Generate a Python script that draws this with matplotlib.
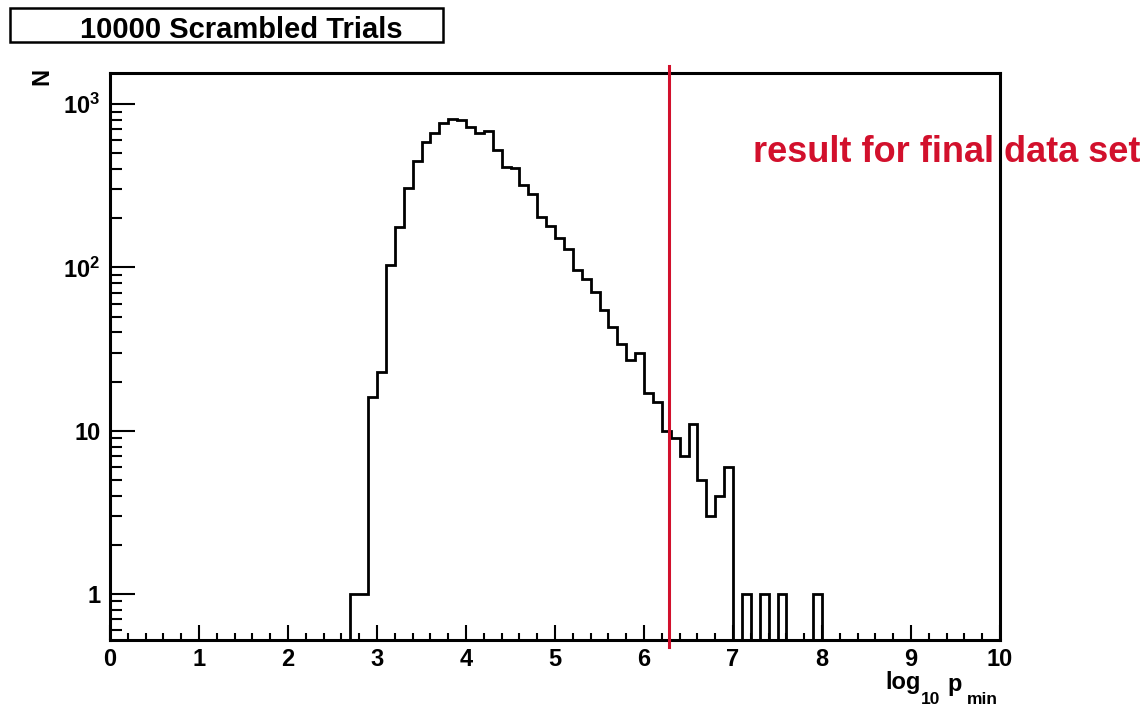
import numpy as np
import matplotlib
matplotlib.use("Agg")
import matplotlib.pyplot as plt
from matplotlib.patches import Rectangle
from matplotlib.ticker import FixedLocator, MultipleLocator, LogLocator, NullFormatter

# ---- data ---------------------------------------------------------------
bin_edges_lo = 0.0
bin_edges_hi = 10.0
bin_width = 0.1

# counts of the non-empty bins, keyed by the lower bin edge
filled_bin_starts = [2.7, 2.8, 2.9, 3.0, 3.1, 3.2, 3.3, 3.4, 3.5, 3.6,
                     3.7, 3.8, 3.9, 4.0, 4.1, 4.2, 4.3, 4.4, 4.5, 4.6,
                     4.7, 4.8, 4.9, 5.0, 5.1, 5.2, 5.3, 5.4, 5.5, 5.6,
                     5.7, 5.8, 5.9, 6.0, 6.1, 6.2, 6.3, 6.4, 6.5, 6.6,
                     6.7, 6.8, 6.9, 7.1, 7.3, 7.5, 7.9]
filled_bin_counts = [1, 1, 16, 23, 104, 177, 308, 448, 586, 668,
                     762, 811, 800, 727, 662, 680, 524, 414, 405, 320,
                     281, 203, 178, 151, 130, 96, 85, 71, 55, 43,
                     34, 27, 30, 17, 15, 10, 9, 7, 11, 5,
                     3, 4, 6, 1, 1, 1, 1]

result_log10_pmin = 6.28

title_text = "10000 Scrambled Trials"
result_text = "result for final data set"
y_ticks = [1, 10, 100, 1000]
y_tick_labels = ["1", "10", r"$10^{2}$", r"$10^{3}$"]
x_ticks = list(range(0, 11))

# ---- figure setup -------------------------------------------------------
W, H = 1147, 706
plt.rcParams["font.family"] = ["Liberation Sans", "DejaVu Sans"]
plt.rcParams["font.weight"] = "bold"
plt.rcParams["mathtext.fontset"] = "custom"
plt.rcParams["mathtext.rm"] = "Liberation Sans:bold"
plt.rcParams["mathtext.bf"] = "Liberation Sans:bold"
plt.rcParams["mathtext.it"] = "Liberation Sans:bold"

fig = plt.figure(figsize=(W / 100, H / 100), dpi=100)
fig.patch.set_facecolor("white")


def px(x, y):
    """Pixel position (from top-left) to figure fraction."""
    return x / W, 1 - y / H


left, right, top, bottom = 110, 1000, 72.7, 640
ax = fig.add_axes([left / W, 1 - bottom / H, (right - left) / W, (bottom - top) / H])

edges = np.round(np.arange(bin_edges_lo, bin_edges_hi + bin_width / 2, bin_width), 6)
counts = np.zeros(len(edges) - 1)
for start, c in zip(filled_bin_starts, filled_bin_counts):
    counts[int(round((start - bin_edges_lo) / bin_width))] = c

y_lo, y_hi = 0.523, 1556
# empty bins sit on the bottom of the frame, as in a ROOT outline histogram
draw_counts = np.where(counts > 0, counts, y_lo * 0.3)
ax.stairs(draw_counts, edges, baseline=None, color="black", linewidth=2.0)

ax.set_yscale("log")
ax.set_xlim(bin_edges_lo, bin_edges_hi)
ax.set_ylim(y_lo, y_hi)

ax.axvline(result_log10_pmin, ymin=-0.013, ymax=1.012, color="#d2102c",
           linewidth=2.2, clip_on=False, zorder=5)

# ticks
ax.xaxis.set_major_locator(FixedLocator(x_ticks))
ax.xaxis.set_minor_locator(MultipleLocator(0.2))
ax.yaxis.set_major_locator(FixedLocator(y_ticks))
ax.set_yticklabels(y_tick_labels)
ax.yaxis.set_minor_locator(LogLocator(base=10, subs=np.arange(2, 10)))
ax.yaxis.set_minor_formatter(NullFormatter())

ax.tick_params(axis="x", which="major", direction="in", length=11, width=1.5,
               labelsize=17, pad=6)
ax.tick_params(axis="x", which="minor", direction="in", length=5, width=1.5)
ax.tick_params(axis="y", which="major", direction="in", length=18, width=1.5,
               labelsize=17, pad=7)
ax.tick_params(axis="y", which="minor", direction="in", length=8.5, width=1.5)
ax.tick_params(top=False, right=False, which="both")
for lab in ax.get_xticklabels() + ax.get_yticklabels():
    lab.set_fontweight("bold")

for s in ax.spines.values():
    s.set_linewidth(2.2)

# title box
bx0, by0 = px(10, 42)
bx1, by1 = px(443, 8)
fig.patches.append(Rectangle((bx0, by0), bx1 - bx0, by1 - by0, transform=fig.transFigure,
                             facecolor="white", edgecolor="black", linewidth=1.8))
fig.text(*px(241.5, 30), title_text, ha="center", va="center", fontsize=21,
         fontweight="bold")

# axis titles
fig.text(*px(42, 76), "N", rotation=90, ha="center", va="center", fontsize=17,
         fontweight="bold")
fig.text(*px(885, 689), "log", ha="left", va="baseline", fontsize=17, fontweight="bold")
fig.text(*px(921, 704), "10", ha="left", va="baseline", fontsize=12.5, fontweight="bold")
fig.text(*px(947, 691), "p", ha="left", va="baseline", fontsize=17, fontweight="bold")
fig.text(*px(967, 704), "min", ha="left", va="baseline", fontsize=12.5, fontweight="bold")

# annotation
fig.text(*px(753, 152), result_text, ha="left", va="center", fontsize=26,
         fontweight="bold", color="#d2102c")

fig.savefig("out.png", dpi=100, facecolor="white")
